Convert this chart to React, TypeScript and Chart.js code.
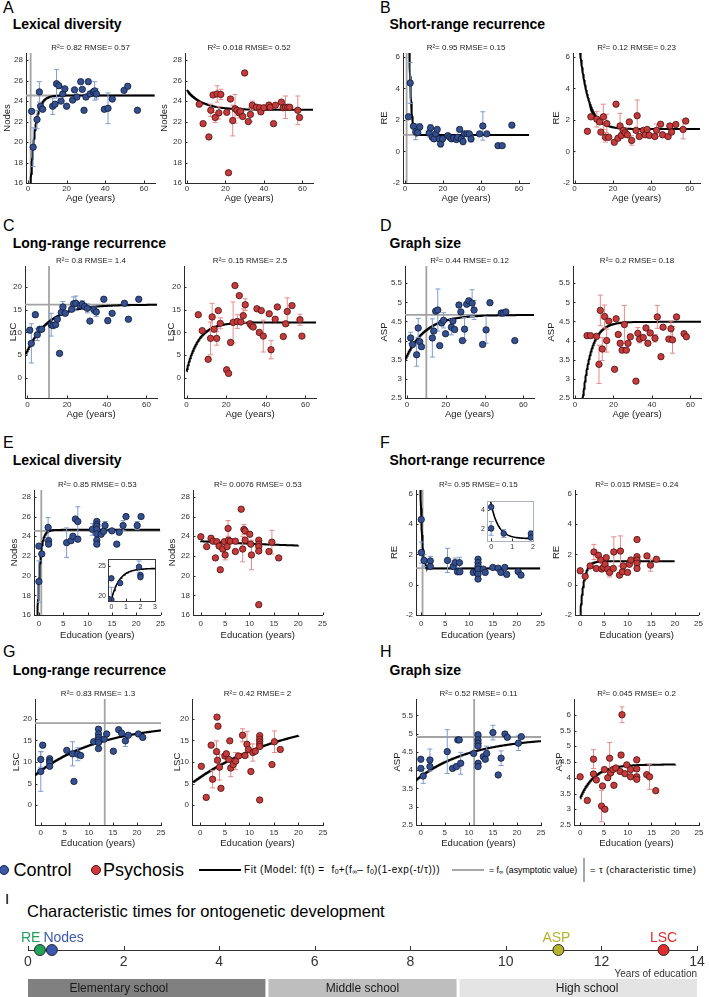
import React, { useEffect, useRef } from "react";
import { Chart, registerables } from "chart.js";
Chart.register(...registerables);

const FONT = "'Liberation Sans', Arial, Helvetica, sans-serif";
Chart.defaults.font.family = FONT;

/* ---------------- tick labels ---------------- */
const ageTicks = [0, 20, 40, 60];
const eduTicks = [0, 5, 10, 15, 20, 25];
const nodesTicks = [16, 18, 20, 22, 24, 26, 28];
const reTicks = [-2, 0, 2, 4, 6];
const lscTicks = [0, 5, 10, 15, 20];
const aspTicks = [2.5, 3, 3.5, 4, 4.5, 5, 5.5];
const aspTicksWide = [2.5, 3, 3.5, 4, 4.5, 5, 5.5, 6];
const insetNodesXTicks = [0, 1, 2, 3];
const insetNodesYTicks = [20, 25];
const insetREXTicks = [0, 1, 2];
const insetREYTicks = [2, 4];
const timelineTicks = [0, 2, 4, 6, 8, 10, 12, 14];

const r2Labels = [
  "R²= 0.82 RMSE= 0.57", "R²= 0.018 RMSE= 0.52",
  "R²= 0.95 RMSE= 0.15", "R²= 0.12 RMSE= 0.23",
  "R²= 0.8 RMSE= 1.4", "R²= 0.15 RMSE= 2.5",
  "R²= 0.44 RMSE= 0.12", "R²= 0.2 RMSE= 0.18",
  "R²= 0.85 RMSE= 0.53", "R²= 0.0076 RMSE= 0.53",
  "R²= 0.95 RMSE= 0.15", "R²= 0.015 RMSE= 0.24",
  "R²= 0.83 RMSE= 1.3", "R²= 0.42 RMSE= 2",
  "R²= 0.52 RMSE= 0.11", "R²= 0.045 RMSE= 0.2",
];

const panelLetters = ["A", "B", "C", "D", "E", "F", "G", "H"];
const panelTitles = [
  "Lexical diversity", "Short-range recurrence", "Long-range recurrence", "Graph size",
  "Lexical diversity", "Short-range recurrence", "Long-range recurrence", "Graph size",
];

/* ---------------- data: [x, y, error] ---------------- */
type Pt = [number, number, number];

const ageNodesCtrl: Pt[] = [
  [1.9, 23.0, 0], [2.7, 19.5, 1.9], [4.7, 22.2, 0.9], [5.9, 24.9, 1.0], [6.5, 23.5, 0], [7.6, 23.2, 0],
  [12.8, 23.5, 0.8], [14.0, 23.7, 0], [14.8, 25.7, 1.4], [16.0, 25.5, 0], [17.1, 24.0, 0], [18.0, 24.7, 0.7],
  [19.1, 25.2, 0], [20.0, 23.5, 0], [23.1, 24.1, 0], [24.1, 25.1, 0], [25.3, 24.4, 0], [27.3, 25.9, 0],
  [28.1, 25.15, 0], [29.0, 23.1, 0], [30.0, 24.4, 0], [31.2, 25.9, 0], [32.1, 24.7, 0], [33.8, 24.9, 0],
  [34.5, 25.0, 0.9], [35.4, 24.7, 0.5], [39.5, 23.2, 0], [41.4, 23.3, 1.5], [43.6, 24.2, 0], [49.7, 25.05, 0],
  [51.6, 25.45, 0], [56.6, 23.1, 0],
];
const ageNodesPsy: Pt[] = [
  [6.4, 23.7, 0], [8.4, 21.8, 0], [11.4, 20.5, 0], [12.4, 23.1, 0.6], [13.6, 24.6, 0], [14.7, 22.4, 0.5],
  [15.7, 24.7, 0.8], [16.6, 22.85, 0.6], [17.6, 24.65, 0.5], [20.7, 22.9, 0], [21.6, 17.0, 0], [22.6, 24.2, 0],
  [23.8, 22.1, 1.5], [25.0, 23.25, 1.4], [26.0, 23.1, 0], [27.1, 22.85, 0.5], [27.9, 23.0, 0], [29.0, 22.5, 0],
  [30.0, 26.75, 0.2], [31.9, 22.0, 0], [33.0, 22.7, 0.7], [34.0, 23.6, 0.4], [36.1, 23.4, 0], [37.8, 23.35, 0],
  [38.4, 22.95, 0], [40.0, 23.35, 0], [42.6, 23.6, 0.3], [43.3, 23.4, 0], [45.0, 21.8, 0], [46.0, 23.6, 0],
  [49.1, 23.9, 0], [50.0, 23.35, 0], [51.2, 23.4, 1.1], [52.4, 23.4, 0], [53.4, 23.4, 0], [57.6, 23.1, 1.4],
  [58.5, 22.4, 0],
];
const ageRECtrl: Pt[] = [
  [1.9, 2.2, 0], [2.8, 4.35, 1.3], [4.5, 1.6, 0], [5.7, 1.25, 0.5], [6.75, 1.2, 0], [7.8, 1.56, 0.2],
  [12.8, 1.17, 0.25], [13.5, 1.5, 0.2], [14.4, 0.9, 0], [15.3, 0.8, 0], [16.3, 1.12, 0], [17.0, 1.4, 0],
  [18.1, 0.8, 0], [18.8, 0.48, 0.2], [19.8, 0.8, 0], [22.6, 1.0, 0.15], [23.6, 0.9, 0], [24.6, 0.8, 0],
  [25.7, 0.85, 0], [27.1, 0.76, 0.1], [27.8, 0.9, 0], [28.8, 1.4, 0], [29.7, 0.8, 0], [30.6, 0.63, 0.2],
  [31.4, 1.12, 0], [32.7, 1.12, 0], [33.9, 1.12, 0], [34.8, 0.8, 0.2], [39.3, 1.12, 0], [41.0, 1.62, 0.9],
  [43.1, 1.12, 0], [49.0, 0.37, 0], [51.2, 0.37, 0], [56.3, 1.67, 0],
];
const ageREPsy: Pt[] = [
  [6.7, 1.28, 0], [8.5, 2.2, 0], [11.6, 2.05, 0.5], [13.0, 1.88, 0], [13.7, 1.23, 0], [15.0, 2.2, 0.8],
  [16.1, 0.9, 0.3], [16.8, 1.77, 0.6], [17.8, 0.9, 0], [20.7, 0.58, 0], [21.6, 3.0, 0], [22.6, 0.84, 0],
  [23.7, 1.62, 0.8], [24.4, 1.02, 0], [25.4, 1.34, 0], [26.4, 1.19, 0.3], [27.5, 1.06, 0], [28.5, 1.88, 0],
  [29.7, 0.7, 0.3], [32.0, 1.34, 0], [32.6, 2.27, 1.0], [33.7, 0.95, 0], [35.8, 1.34, 0], [36.8, 1.06, 0],
  [37.8, 1.4, 0], [38.9, 1.02, 0], [41.8, 0.95, 0], [42.7, 1.34, 0.4], [44.8, 1.73, 0], [45.8, 1.06, 0],
  [48.7, 0.95, 0], [49.6, 1.62, 0], [50.5, 1.23, 0], [52.7, 1.71, 0], [56.5, 1.4, 0.6], [57.9, 1.93, 0],
];
const ageLSCCtrl: Pt[] = [
  [1.2, 10.5, 0], [2.0, 7.6, 4.3], [4.0, 13.9, 0.6], [5.0, 9.5, 1.3], [6.2, 10.7, 0], [7.2, 10.7, 0],
  [12.0, 11.7, 2.5], [12.9, 11.5, 0], [14.2, 11.7, 0], [15.1, 12.9, 0], [16.2, 5.4, 0], [17.1, 14.4, 0],
  [17.9, 15.6, 1.2], [19.1, 14.2, 0], [22.3, 15.1, 0], [23.3, 16.3, 1.5], [24.4, 16.4, 1.6], [26.6, 15.9, 0],
  [27.6, 16.2, 0.8], [28.8, 15.7, 0], [30.2, 15.3, 1.0], [31.5, 12.5, 0], [33.5, 15.0, 0.8], [34.7, 14.5, 1.0],
  [38.5, 17.3, 0], [40.5, 12.6, 0.6], [42.7, 14.2, 0], [48.9, 16.4, 0], [50.9, 12.9, 0], [56.1, 17.3, 0],
];
const ageLSCPsy: Pt[] = [
  [5.9, 13.9, 0], [7.9, 10.4, 0], [10.9, 4.1, 0], [12.1, 8.7, 3.6], [12.9, 13.4, 3.0], [13.9, 10.7, 0],
  [15.2, 8.7, 1.5], [16.0, 14.8, 0], [17.0, 12.0, 1.2], [20.2, 1.8, 0], [21.2, 1.0, 0], [22.2, 7.8, 0.5],
  [23.5, 12.2, 4.5], [24.4, 20.3, 0], [25.6, 12.4, 1.5], [26.6, 18.1, 0], [27.4, 12.3, 0], [28.6, 13.7, 1.5],
  [29.6, 16.1, 1.3], [32.0, 11.9, 0], [32.8, 11.5, 0], [33.6, 11.2, 0], [35.5, 15.2, 0], [36.7, 10.0, 0],
  [37.7, 14.8, 0], [38.7, 9.2, 3.5], [41.7, 14.1, 0], [42.6, 6.2, 2.0], [44.7, 12.9, 0], [45.8, 15.6, 0],
  [48.8, 9.1, 0], [50.0, 11.9, 0], [50.8, 14.6, 3.0], [53.2, 15.9, 0], [57.2, 12.8, 1.2], [58.2, 9.2, 0],
];
const ageASPCtrl: Pt[] = [
  [1.9, 4.07, 0.15], [2.9, 3.9, 0], [5.0, 3.63, 0.3], [5.8, 4.33, 0.25], [6.6, 3.97, 0], [7.5, 3.84, 0],
  [13.1, 4.07, 0.5], [13.8, 4.25, 0], [14.8, 4.77, 0], [15.9, 4.8, 0.55], [16.9, 3.87, 0], [17.9, 4.46, 0],
  [18.9, 4.53, 0.2], [19.9, 4.18, 0], [22.9, 4.35, 0.2], [23.7, 4.51, 0], [24.6, 4.29, 0], [26.8, 4.93, 0],
  [27.8, 4.75, 0], [28.6, 4.0, 0], [29.7, 4.3, 0.3], [30.8, 4.95, 0], [31.9, 5.04, 0], [33.6, 4.98, 0.35],
  [34.6, 4.8, 0.25], [39.0, 3.9, 0], [40.8, 4.28, 0.35], [42.8, 4.99, 0], [48.6, 4.72, 0], [49.6, 4.72, 0],
  [51.0, 4.75, 0], [55.6, 4.0, 0],
];
const ageASPPsy: Pt[] = [
  [6.3, 4.13, 0], [8.1, 4.13, 0], [11.2, 4.11, 0], [12.5, 3.38, 0.5], [13.2, 4.79, 0.4], [14.2, 3.78, 0.3],
  [15.4, 4.63, 0.3], [16.5, 4.0, 0.3], [17.6, 4.51, 0], [20.6, 3.25, 0], [21.4, 4.57, 0], [22.5, 4.16, 0],
  [23.5, 3.93, 0], [24.5, 3.75, 0], [25.7, 4.42, 0.5], [26.7, 3.75, 0], [27.6, 3.93, 0], [28.8, 4.1, 0],
  [31.7, 2.94, 0], [32.7, 4.19, 0.15], [33.6, 4.04, 0.1], [35.5, 4.08, 0], [36.9, 4.33, 0], [37.9, 3.93, 0],
  [39.1, 4.2, 0], [41.6, 4.06, 0.1], [42.8, 4.62, 0.3], [44.7, 3.58, 0], [45.8, 4.35, 0], [48.8, 4.04, 0],
  [49.9, 4.31, 0.2], [50.7, 4.02, 0.35], [52.8, 4.62, 0], [56.7, 4.18, 0], [57.9, 4.1, 0],
];
const eduNodesCtrl: Pt[] = [
  [0.0, 23.0, 0], [0.0, 19.4, 2.1], [0.6, 22.2, 0], [1.9, 24.9, 1.0], [2.0, 23.55, 0], [2.0, 23.2, 0],
  [5.7, 23.35, 1.5], [6.6, 23.55, 0], [7.0, 24.0, 0], [7.5, 25.75, 0], [8.0, 25.5, 1.5], [8.0, 23.7, 0],
  [11.0, 24.7, 0.6], [11.9, 25.5, 0], [11.9, 25.2, 0], [11.9, 25.0, 0], [11.9, 24.7, 0], [11.9, 24.25, 0],
  [11.9, 23.6, 0], [11.9, 23.2, 0], [12.8, 24.2, 0], [13.3, 24.5, 0], [13.6, 25.1, 0.4], [15.0, 24.55, 0],
  [16.0, 23.2, 0], [16.5, 24.4, 0], [17.3, 25.1, 0.5], [17.9, 26.0, 0], [20.2, 25.1, 0.4], [21.0, 26.0, 0],
];
const eduNodesPsy: Pt[] = [
  [0.0, 23.95, 0], [1.2, 22.95, 0], [2.1, 23.8, 0], [2.5, 23.5, 0], [3.0, 21.8, 0], [3.3, 23.45, 0],
  [3.75, 23.0, 0], [4.0, 20.6, 0], [4.5, 22.7, 0], [4.85, 23.45, 0], [5.0, 22.1, 0.5], [5.4, 22.95, 0],
  [5.6, 24.8, 0.8], [5.7, 23.6, 0], [6.05, 23.5, 0], [7.1, 22.45, 0], [7.1, 23.5, 0], [8.3, 26.75, 0],
  [8.6, 22.7, 1.3], [8.85, 24.7, 0.5], [9.1, 24.55, 0], [9.1, 23.6, 0], [10.05, 24.2, 0], [10.25, 23.2, 0],
  [10.4, 22.1, 1.5], [11.9, 23.6, 0], [11.9, 23.2, 0], [11.9, 22.95, 0], [11.9, 22.5, 0], [11.9, 17.05, 0],
  [14.0, 22.45, 0], [14.6, 23.4, 1.2], [16.0, 21.8, 0],
];
const eduRECtrl: Pt[] = [
  [0.0, 2.12, 0.7], [0.0, 4.3, 0], [0.6, 1.6, 0.4], [1.9, 1.57, 0.3], [1.9, 1.2, 0], [5.5, 1.6, 0.8],
  [6.7, 1.2, 0], [7.1, 1.46, 0.3], [7.6, 0.85, 0], [8.0, 1.46, 0.35], [8.1, 0.85, 0], [10.9, 0.81, 0],
  [11.6, 0.85, 0], [11.9, 1.68, 0], [11.9, 1.46, 0], [11.9, 1.24, 0], [11.9, 1.03, 0], [11.9, 0.7, 0],
  [11.9, 0.37, 0], [13.0, 1.03, 0], [13.4, 0.81, 0], [15.0, 1.14, 0], [16.1, 1.09, 0], [16.7, 0.81, 0],
  [17.5, 1.14, 0], [17.9, 0.68, 0], [20.3, 0.87, 0], [20.9, 0.63, 0],
];
const eduREPsy: Pt[] = [
  [0.0, 0.92, 0], [1.05, 0.55, 0], [2.1, 1.24, 0], [2.9, 2.16, 0.5], [3.4, 1.07, 0], [3.85, 1.94, 0],
  [4.35, 1.63, 0], [4.55, 1.03, 0], [4.9, 1.14, 0], [5.25, 1.35, 0], [5.5, 1.79, 0], [5.8, 1.03, 0],
  [6.2, 0.81, 0.3], [7.0, 1.07, 0], [7.1, 2.16, 1.0], [8.3, 0.63, 0], [8.5, 2.22, 1.0], [8.9, 0.85, 0],
  [9.1, 1.24, 0], [10.0, 0.81, 0], [10.4, 1.35, 0], [10.7, 1.63, 0], [12.0, 2.98, 0], [12.0, 1.85, 0],
  [12.0, 1.63, 0], [12.0, 1.42, 0], [12.0, 1.07, 0], [14.1, 1.9, 0], [14.85, 1.29, 0.4], [16.1, 1.68, 0],
];
const eduLSCCtrl: Pt[] = [
  [0.0, 10.6, 1.8], [0.0, 7.8, 4.6], [0.4, 13.9, 0.6], [1.85, 10.75, 0], [1.85, 10.2, 0], [1.85, 9.8, 0],
  [1.85, 9.0, 0], [5.4, 12.7, 0], [6.6, 11.9, 2.8], [6.9, 5.5, 0], [7.7, 11.8, 1.5], [8.3, 11.5, 0],
  [11.0, 14.7, 0], [12.0, 17.6, 0], [12.0, 16.5, 0], [12.0, 15.7, 0], [12.0, 15.1, 0], [12.0, 14.5, 0],
  [12.0, 13.1, 0], [13.2, 15.3, 0], [13.7, 16.5, 0], [15.1, 12.5, 0], [16.2, 17.5, 0], [16.8, 16.7, 0],
  [17.6, 14.9, 1.3], [18.2, 16.2, 0], [20.3, 16.5, 0], [21.2, 15.7, 0],
];
const eduLSCPsy: Pt[] = [
  [0.2, 9.0, 0], [1.2, 1.8, 0], [2.2, 13.9, 0], [2.5, 6.0, 2.0], [3.3, 12.4, 2.5], [3.5, 10.4, 0],
  [3.9, 8.8, 3.0], [4.2, 3.9, 0], [3.4, 20.4, 0], [3.6, 18.3, 0], [5.0, 11.4, 0], [5.3, 11.9, 0],
  [5.8, 10.6, 0], [6.0, 14.9, 0], [6.2, 8.6, 2.0], [6.7, 9.4, 0], [7.2, 10.2, 2.0], [7.8, 11.4, 0],
  [8.6, 16.2, 1.5], [9.1, 11.5, 0], [9.5, 14.1, 3.0], [9.8, 12.9, 0], [10.3, 7.8, 0], [10.7, 12.2, 2.0],
  [11.2, 12.5, 0], [12.1, 1.2, 0], [12.1, 16.1, 0], [12.1, 15.3, 0], [12.1, 14.7, 0], [12.1, 14.1, 0],
  [12.1, 13.6, 0], [14.6, 9.4, 0], [15.1, 14.7, 2.5], [16.3, 12.9, 0],
];
const eduASPCtrl: Pt[] = [
  [0.0, 4.3, 0], [0.0, 4.05, 0], [0.5, 3.84, 0.2], [1.9, 4.1, 0], [1.9, 4.28, 0.3], [5.5, 4.51, 0.6],
  [6.6, 4.05, 0], [7.4, 4.1, 0], [7.7, 4.83, 0], [8.0, 4.83, 0], [8.3, 4.19, 0.3], [11.0, 4.46, 0],
  [11.9, 4.97, 0], [11.9, 4.83, 0], [11.9, 4.74, 0], [11.9, 4.66, 0], [11.9, 4.19, 0], [11.9, 4.1, 0],
  [13.0, 4.37, 0], [13.4, 4.3, 0], [13.7, 4.46, 0.2], [15.0, 5.03, 0.2], [16.1, 3.87, 0], [16.7, 4.33, 0.2],
  [17.5, 4.99, 0], [18.0, 4.9, 0], [20.3, 4.74, 0.2], [20.9, 4.92, 0],
];
const eduASPPsy: Pt[] = [
  [0.0, 4.03, 0], [1.5, 3.28, 0], [2.8, 4.59, 0.3], [2.8, 4.12, 0], [3.4, 3.93, 0], [4.5, 3.1, 0.5],
  [4.7, 3.74, 0], [5.1, 4.26, 0], [5.2, 3.0, 0], [5.8, 4.0, 0], [6.2, 4.62, 0.5], [6.4, 4.15, 0],
  [6.9, 4.26, 0], [7.1, 3.76, 0], [7.5, 4.31, 0], [8.4, 4.2, 0], [8.6, 4.72, 0], [8.8, 6.0, 0.25],
  [9.4, 4.13, 0], [9.8, 4.41, 0], [10.6, 4.26, 0], [10.6, 4.03, 0], [11.9, 4.57, 0], [11.9, 4.28, 0],
  [11.9, 4.03, 0], [11.9, 3.95, 0], [14.0, 4.1, 0], [14.6, 4.03, 0.4], [15.9, 3.59, 0],
];

/* ---------------- fits: [f0, fInf, tau, tStart, tEnd] ---------------- */
const fitAgeNodesCtrl = [9, 24.55, 2.4, 0, 65.5];
const fitAgeNodesPsy = [25.1, 23.15, 8, 0, 65.5];
const fitAgeRECtrl = [75, 1.05, 0.92, 0, 65.5];
const fitAgeREPsy = [10.6, 1.42, 4.6, 0, 65.5];
const fitAgeLSCCtrl = [6, 16.1, 10.9, -0.8, 65.5];
const fitAgeLSCPsy = [1.5, 12.2, 6, 0, 65.5];
const fitAgeASPCtrl = [3.6, 4.67, 10, -1, 65.5];
const fitAgeASPPsy = [-0.5, 4.49, 4.5, 0, 65.5];
const fitEduNodesCtrl = [19.4, 24.65, 0.55, -1, 25];
const fitEduNodesPsy = [23.5, 22.6, 30, 0, 20];
const fitEduRECtrl = [4.6, 1.07, 0.35, -0.5, 25];
const fitEduREPsy = [-2.1, 1.55, 0.8, 0, 20];
const fitEduLSCCtrl = [8, 19, 13.3, -1.2, 25];
const fitEduLSCPsy = [6.5, 21.5, 19.6, -1.5, 20];
const fitEduASPCtrl = [3.83, 4.91, 11.1, -1, 25];
const fitEduASPPsy = [3.35, 4.42, 3, 0, 20];

/* gray reference lines for controls: [asymptote fInf, characteristic time tau] */
const refAgeNodes = [24.55, 1.4];
const refAgeRE = [1.05, 0.9];
const refAgeLSC = [16.1, 10.9];
const refAgeASP = [4.67, 10];
const refEduNodes = [24.55, 0.5];
const refEduRE = [1.1, 0.27];
const refEduLSC = [19.0, 13.3];
const refEduASP = [4.91, 11.1];

/* ---------------- panel I ---------------- */
const timelineMeasures = ["RE", "Nodes", "ASP", "LSC"];
const timelineTaus = [0.25, 0.5, 11.1, 13.3];
const timelineColors = ["#22a35a", "#3d58b0", "#b6b32c", "#e02c2c"];
const schoolNames = ["Elementary school", "Middle school", "High school"];
const schoolStart = [0, 5, 9];
const schoolEnd = [5, 9, 14];
const schoolLabelAt = [1.9, 7.0, 11.7];
const schoolColors = ["#808080", "#bebebe", "#e4e4e4"];

/* ---------------- styles ---------------- */
const CTRL = { fill: "#35508f", edge: "#0f1b3b", err: "#7e9dd2" };
const PSY = { fill: "#c53b3b", edge: "#4d1010", err: "#e88b8b" };
const AXIS = "#2b2b2b";
const REF = "#a3a3a3";

function modelValue(f0: number, fInf: number, tau: number, t: number) {
  return f0 + (fInf - f0) * (1 - Math.exp(-t / tau));
}
function fitPoints(fit: number[]) {
  const [f0, fInf, tau, t0, t1] = fit;
  const n = 500;
  const out: any[] = [];
  for (let i = 0; i <= n; i++) {
    const t = t0 + ((t1 - t0) * i) / n;
    out.push({ x: t, y: modelValue(f0, fInf, tau, t) });
  }
  return out;
}

/* ---------------- plugins ---------------- */
const errorBars = {
  id: "errorBars",
  beforeDatasetDraw(chart: any, args: any) {
    const ds = chart.data.datasets[args.index];
    if (!ds.errors) return;
    const { ctx, chartArea: a } = chart;
    const xs = chart.scales.x, ys = chart.scales.y;
    ctx.save();
    ctx.beginPath();
    ctx.rect(a.left, a.top, a.right - a.left, a.bottom - a.top);
    ctx.clip();
    ctx.strokeStyle = ds.errorColor;
    ctx.lineWidth = 1;
    ds.data.forEach((p: any, i: number) => {
      const e = ds.errors[i];
      if (!e) return;
      const x = xs.getPixelForValue(p.x);
      const y1 = ys.getPixelForValue(p.y + e);
      const y2 = ys.getPixelForValue(p.y - e);
      ctx.beginPath();
      ctx.moveTo(x, y1); ctx.lineTo(x, y2);
      ctx.moveTo(x - 2.5, y1); ctx.lineTo(x + 2.5, y1);
      ctx.moveTo(x - 2.5, y2); ctx.lineTo(x + 2.5, y2);
      ctx.stroke();
    });
    ctx.restore();
  },
};

const innerTicks = {
  id: "innerTicks",
  afterDatasetsDraw(chart: any) {
    const { ctx, chartArea: a, scales } = chart;
    const len = 2.5;
    ctx.save();
    ctx.strokeStyle = AXIS;
    ctx.lineWidth = 1;
    ctx.beginPath();
    for (const t of scales.x.ticks) {
      const x = Math.round(scales.x.getPixelForValue(t.value)) + 0.5;
      ctx.moveTo(x, a.bottom); ctx.lineTo(x, a.bottom - len);
    }
    for (const t of scales.y.ticks) {
      const y = Math.round(scales.y.getPixelForValue(t.value)) + 0.5;
      ctx.moveTo(a.left, y); ctx.lineTo(a.left + len, y);
    }
    ctx.stroke();
    ctx.restore();
  },
};

function makeFrame(color: string) {
  return {
    id: "insetFrame",
    beforeDatasetsDraw(chart: any) {
      const { ctx, chartArea: a } = chart;
      ctx.save();
      ctx.fillStyle = "#ffffff";
      ctx.fillRect(a.left, a.top, a.right - a.left, a.bottom - a.top);
      ctx.restore();
    },
    afterDraw(chart: any) {
      const { ctx, chartArea: a } = chart;
      ctx.save();
      ctx.strokeStyle = color;
      ctx.lineWidth = 1;
      ctx.strokeRect(Math.round(a.left) + 0.5, Math.round(a.top) + 0.5, Math.round(a.right - a.left), Math.round(a.bottom - a.top));
      ctx.restore();
    },
  };
}

/* ---------------- panel layout ---------------- */
const PANELS: any[] = [
  { area: [26, 53, 155, 183], x: [-1, 65.7], y: [16, 28.7], xt: ageTicks, yt: nodesTicks, xl: "Age (years)", yl: "Nodes", pts: ageNodesCtrl, fit: fitAgeNodesCtrl, ref: refAgeNodes, g: "c", L: 24, B: 21, tp: 0.5 },
  { area: [185, 53, 313, 183], x: [-1, 65.5], y: [16, 28.7], xt: ageTicks, yt: nodesTicks, xl: "Age (years)", yl: "Nodes", pts: ageNodesPsy, fit: fitAgeNodesPsy, g: "p", L: 26, B: 21, tp: 0.5 },
  { area: [403, 53, 529, 183], x: [-1, 65.3], y: [-2, 6.25], xt: ageTicks, yt: reTicks, xl: "Age (years)", yl: "RE", pts: ageRECtrl, fit: fitAgeRECtrl, ref: refAgeRE, g: "c", L: 24, B: 21, tp: 0.5 },
  { area: [573, 53, 700, 183], x: [-0.8, 65.3], y: [-2, 6.25], xt: ageTicks, yt: reTicks, xl: "Age (years)", yl: "RE", pts: ageREPsy, fit: fitAgeREPsy, g: "p", L: 22, B: 21, tp: 0.5 },
  { area: [25, 266, 157, 398], x: [-1.2, 65.3], y: [-4.4, 24.6], xt: ageTicks, yt: lscTicks, xl: "Age (years)", yl: "LSC", pts: ageLSCCtrl, fit: fitAgeLSCCtrl, ref: refAgeLSC, g: "c", L: 17, B: 22, tp: 1.5 },
  { area: [184, 266, 316, 398], x: [-1.3, 65.3], y: [-4.4, 24.6], xt: ageTicks, yt: lscTicks, xl: "Age (years)", yl: "LSC", pts: ageLSCPsy, fit: fitAgeLSCPsy, g: "p", L: 18, B: 22, tp: 1.5 },
  { area: [405, 266, 534, 398], x: [-1, 65.5], y: [2.5, 5.95], xt: ageTicks, yt: aspTicks, xl: "Age (years)", yl: "ASP", pts: ageASPCtrl, fit: fitAgeASPCtrl, ref: refAgeASP, g: "c", L: 26, B: 22, tp: 1.5 },
  { area: [573, 266, 701, 398], x: [-1, 65.5], y: [2.5, 5.95], xt: ageTicks, yt: aspTicks, xl: "Age (years)", yl: "ASP", pts: ageASPPsy, fit: fitAgeASPPsy, g: "p", L: 27, B: 22, tp: 1.5 },
  { area: [34, 490, 161, 615], x: [-1, 25], y: [16, 28.7], xt: eduTicks, yt: nodesTicks, xl: "Education (years)", yl: "Nodes", pts: eduNodesCtrl, fit: fitEduNodesCtrl, ref: refEduNodes, g: "c", L: 25, B: 26, tp: 4 },
  { area: [193, 490, 323, 615], x: [-1.6, 25], y: [16, 28.7], xt: eduTicks, yt: nodesTicks, xl: "Education (years)", yl: "Nodes", pts: eduNodesPsy, fit: fitEduNodesPsy, g: "p", L: 26, B: 26, tp: 4 },
  { area: [416, 490, 541, 615], x: [-1.1, 25], y: [-2, 6.25], xt: eduTicks, yt: reTicks, xl: "Education (years)", yl: "RE", pts: eduRECtrl, fit: fitEduRECtrl, ref: refEduRE, g: "c", L: 27, B: 26, tp: 4 },
  { area: [575, 490, 699, 615], x: [-1.1, 25], y: [-2, 6.25], xt: eduTicks, yt: reTicks, xl: "Education (years)", yl: "RE", pts: eduREPsy, fit: fitEduREPsy, g: "p", L: 24, B: 26, tp: 4 },
  { area: [35, 699, 161, 825], x: [-1.2, 25], y: [-4.6, 24.6], xt: eduTicks, yt: lscTicks, xl: "Education (years)", yl: "LSC", pts: eduLSCCtrl, fit: fitEduLSCCtrl, ref: refEduLSC, g: "c", L: 24, B: 24, tp: 2.7 },
  { area: [192, 699, 323, 825], x: [-1.7, 25], y: [-4.6, 24.6], xt: eduTicks, yt: lscTicks, xl: "Education (years)", yl: "LSC", pts: eduLSCPsy, fit: fitEduLSCPsy, g: "p", L: 20, B: 24, tp: 2.7 },
  { area: [416, 699, 541, 825], x: [-1, 25], y: [2.5, 5.95], xt: eduTicks, yt: aspTicks, xl: "Education (years)", yl: "ASP", pts: eduASPCtrl, fit: fitEduASPCtrl, ref: refEduASP, g: "c", L: 24, B: 24, tp: 2.7 },
  { area: [574, 699, 699, 825], x: [-1.3, 25], y: [2.5, 6.5], xt: eduTicks, yt: aspTicksWide, xl: "Education (years)", yl: "ASP", pts: eduASPPsy, fit: fitEduASPPsy, g: "p", L: 20, B: 24, tp: 2.7 },
];

const INSETS: any[] = [
  { area: [108, 555, 155, 601], x: [-0.23, 3], y: [19.2, 26.2], xt: insetNodesXTicks, yt: insetNodesYTicks, pts: eduNodesCtrl, fit: fitEduNodesCtrl, frame: "#3a3a3a" },
  { area: [487, 497, 533, 541], x: [-0.2, 2.0], y: [0.83, 4.9], xt: insetREXTicks, yt: insetREYTicks, pts: eduRECtrl, fit: fitEduRECtrl, frame: "#a9b0c0" },
];

const TITLE_H = 11;
const RIGHT_PAD = 8;

function panelGeom(p: any) {
  const [l, t, r, b] = p.area;
  return { left: l - p.L, top: t - TITLE_H, w: p.L + (r - l) + RIGHT_PAD, h: TITLE_H + (b - t) + p.B };
}

function pointDataset(p: any, radius: number) {
  const col = p.g === "c" ? CTRL : PSY;
  return {
    data: p.pts.map((q: Pt) => ({ x: q[0], y: q[1] })),
    errors: p.pts.map((q: Pt) => q[2]),
    errorColor: col.err,
    showLine: false,
    pointRadius: radius,
    backgroundColor: col.fill,
    borderColor: col.edge,
    pointBackgroundColor: col.fill,
    pointBorderColor: col.edge,
    pointBorderWidth: 0.8,
    order: 0,
  };
}

function panelConfig(p: any, i: number) {
  const datasets: any[] = [
    pointDataset(p, 3.2),
    { data: fitPoints(p.fit), showLine: true, borderColor: "#000", borderWidth: 2, pointRadius: 0, tension: 0, order: 1 },
  ];
  if (p.ref) {
    datasets.push({ data: [{ x: p.x[0], y: p.ref[0] }, { x: p.x[1], y: p.ref[0] }], showLine: true, borderColor: REF, borderWidth: 1.8, pointRadius: 0, order: 2 });
    datasets.push({ data: [{ x: p.ref[1], y: p.y[0] }, { x: p.ref[1], y: p.y[1] }], showLine: true, borderColor: REF, borderWidth: 1.8, pointRadius: 0, order: 2 });
  }
  const tickFont = { family: FONT, size: 8 };
  return {
    type: "scatter",
    data: { datasets },
    options: {
      responsive: false,
      animation: false,
      events: [],
      devicePixelRatio: 1,
      layout: { padding: { left: 0, right: RIGHT_PAD, top: 0, bottom: 0 } },
      plugins: {
        legend: { display: false },
        tooltip: { enabled: false },
        title: {
          display: true, text: r2Labels[i], fullSize: false, color: "#222",
          font: { family: FONT, size: 8, lineHeight: "11px", weight: "normal" }, padding: 0,
        },
      },
      scales: {
        x: {
          type: "linear", min: p.x[0], max: p.x[1],
          afterBuildTicks: (s: any) => { s.ticks = p.xt.map((v: number) => ({ value: v })); },
          afterFit: (s: any) => { s.height = p.B; },
          grid: { display: false, drawTicks: false },
          border: { display: true, color: AXIS, width: 1 },
          ticks: { font: tickFont, color: "#333", padding: p.tp, maxRotation: 0, autoSkip: false, callback: (v: any) => String(v) },
          title: { display: true, text: p.xl, color: "#222", font: { family: FONT, size: 9.5 }, padding: 0 },
        },
        y: {
          type: "linear", min: p.y[0], max: p.y[1],
          afterBuildTicks: (s: any) => { s.ticks = p.yt.map((v: number) => ({ value: v })); },
          afterFit: (s: any) => { s.width = p.L; },
          grid: { display: false, drawTicks: false },
          border: { display: true, color: AXIS, width: 1 },
          ticks: { font: tickFont, color: "#333", padding: 3, autoSkip: false, callback: (v: any) => String(v) },
          title: { display: true, text: p.yl, color: "#222", font: { family: FONT, size: 9.5 }, padding: 0 },
        },
      },
    },
    plugins: [errorBars, innerTicks],
  };
}

function insetConfig(p: any) {
  const tickFont = { family: FONT, size: 7 };
  return {
    type: "scatter",
    data: {
      datasets: [
        pointDataset({ ...p, g: "c" }, 2.8),
        { data: fitPoints(p.fit), showLine: true, borderColor: "#000", borderWidth: 1.6, pointRadius: 0, order: 1 },
      ],
    },
    options: {
      responsive: false, animation: false, events: [], devicePixelRatio: 1,
      layout: { padding: { left: 0, right: 5, top: 2, bottom: 0 } },
      plugins: { legend: { display: false }, tooltip: { enabled: false } },
      scales: {
        x: {
          type: "linear", min: p.x[0], max: p.x[1],
          afterBuildTicks: (s: any) => { s.ticks = p.xt.map((v: number) => ({ value: v })); },
          afterFit: (s: any) => { s.height = 10; },
          grid: { display: false, drawTicks: false }, border: { display: false },
          ticks: { font: tickFont, color: "#333", padding: 1.5, maxRotation: 0, autoSkip: false, callback: (v: any) => String(v) },
        },
        y: {
          type: "linear", min: p.y[0], max: p.y[1],
          afterBuildTicks: (s: any) => { s.ticks = p.yt.map((v: number) => ({ value: v })); },
          afterFit: (s: any) => { s.width = 11; },
          grid: { display: false, drawTicks: false }, border: { display: false },
          ticks: { font: tickFont, color: "#333", padding: 2, autoSkip: false, callback: (v: any) => String(v) },
        },
      },
    },
    plugins: [makeFrame(p.frame), errorBars, innerTicks],
  };
}

function useChart(ref: any, makeCfg: () => any) {
  useEffect(() => {
    const chart = new Chart(ref.current, makeCfg());
    return () => chart.destroy();
  }, []);
}

function PanelChart({ p, i }: any) {
  const ref = useRef<HTMLCanvasElement>(null);
  useChart(ref, () => panelConfig(p, i));
  const g = panelGeom(p);
  return <canvas ref={ref} width={g.w} height={g.h} style={{ position: "absolute", left: g.left, top: g.top, width: g.w, height: g.h }} />;
}

function InsetChart({ p }: any) {
  const ref = useRef<HTMLCanvasElement>(null);
  useChart(ref, () => insetConfig(p));
  const [l, t, r, b] = p.area;
  const left = l - 11, top = t - 2, w = 11 + (r - l) + 5, h = 2 + (b - t) + 10;
  return <canvas ref={ref} width={w} height={h} style={{ position: "absolute", left, top, width: w, height: h }} />;
}

/* ---------------- panel I (timeline) ---------------- */
const timelineDecor = {
  id: "timelineDecor",
  afterDraw(chart: any) {
    const { ctx, scales } = chart;
    const xs = scales.x;
    const axisY = chart.chartArea.bottom;
    ctx.save();
    ctx.strokeStyle = "#333";
    ctx.lineWidth = 1;
    ctx.beginPath();
    timelineTicks.forEach((v) => {
      const x = Math.round(xs.getPixelForValue(v)) + 0.5;
      ctx.moveTo(x, axisY); ctx.lineTo(x, axisY - 4);
    });
    ctx.stroke();
    const aligns = ["right", "left", "center", "center"];
    const shifts = [0.5, -8.5, -2, 0];
    ctx.font = `14px ${FONT}`;
    ctx.textBaseline = "alphabetic";
    timelineMeasures.forEach((m, k) => {
      ctx.fillStyle = timelineColors[k];
      ctx.textAlign = aligns[k];
      ctx.fillText(m, xs.getPixelForValue(timelineTaus[k]) + shifts[k], axisY - 8);
    });
    const top = axisY + 29, bottom = chart.height;
    schoolNames.forEach((name, k) => {
      const x0 = xs.getPixelForValue(schoolStart[k]) + (k === 0 ? 0 : 1.5);
      const x1 = xs.getPixelForValue(schoolEnd[k]) - (k === schoolNames.length - 1 ? 0 : 1.5);
      ctx.fillStyle = schoolColors[k];
      ctx.fillRect(x0, top, x1 - x0, bottom - top);
      ctx.fillStyle = "#1a1a1a";
      ctx.font = `12px ${FONT}`;
      ctx.textAlign = "center";
      ctx.textBaseline = "middle";
      ctx.fillText(name, xs.getPixelForValue(schoolLabelAt[k]), (top + bottom) / 2 + 0.5);
    });
    ctx.restore();
  },
};

function TimelineChart() {
  const ref = useRef<HTMLCanvasElement>(null);
  useChart(ref, () => ({
    type: "scatter",
    data: {
      datasets: [{
        data: timelineTaus.map((t) => ({ x: t, y: 0 })),
        pointRadius: 5.5,
        pointBackgroundColor: timelineColors,
        backgroundColor: timelineColors,
        pointBorderColor: "#2a2a2a",
        borderColor: "#2a2a2a",
        pointBorderWidth: 1,
        clip: false,
      }],
    },
    options: {
      responsive: false, animation: false, events: [], devicePixelRatio: 1,
      layout: { padding: { left: 28, right: 12, top: 10, bottom: 0 } },
      plugins: { legend: { display: false }, tooltip: { enabled: false } },
      scales: {
        x: {
          type: "linear", min: 0, max: 14,
          afterBuildTicks: (s: any) => { s.ticks = timelineTicks.map((v) => ({ value: v })); },
          afterFit: (s: any) => { s.height = 47; },
          grid: { display: false, drawTicks: false },
          border: { display: true, color: "#333", width: 1 },
          ticks: { font: { family: FONT, size: 14 }, color: "#333", padding: 4, maxRotation: 0, autoSkip: false, callback: (v: any) => String(v) },
          title: { display: true, text: "Years of education", align: "end", color: "#333", font: { family: FONT, size: 10 }, padding: { top: 0, bottom: 17 } },
        },
        y: { display: false, min: 0, max: 1 },
      },
    },
    plugins: [timelineDecor],
  }));
  return <canvas ref={ref} width={709} height={82} style={{ position: "absolute", left: 0, top: 915, width: 709, height: 82 }} />;
}

/* ---------------- text helpers ---------------- */
function Txt({ x, base, size, weight, color, spacing, children }: any) {
  return (
    <div style={{
      position: "absolute", left: x, top: base - 0.8465 * size, fontSize: size, lineHeight: `${size}px`,
      fontFamily: FONT, fontWeight: weight || 400, color: color || "#000", whiteSpace: "nowrap",
      letterSpacing: spacing ? `${spacing}px` : undefined,
    }}>{children}</div>
  );
}

const headingRows = [
  { letterBase: 13.3, titleBase: 28.5 },
  { letterBase: 231.7, titleBase: 248 },
  { letterBase: 448.3, titleBase: 465.3 },
  { letterBase: 657.3, titleBase: 675 },
];

function Headings() {
  const out: any[] = [];
  panelLetters.forEach((letter, k) => {
    const row = headingRows[Math.floor(k / 2)];
    const right = k % 2 === 1;
    out.push(<Txt key={"l" + k} x={right ? 380 : 3} base={row.letterBase} size={16}>{letter}</Txt>);
    out.push(<Txt key={"t" + k} x={right ? 389.5 : 12.7} base={row.titleBase} size={14} weight={700}>{panelTitles[k]}</Txt>);
  });
  return <>{out}</>;
}

function Legend() {
  const sub = { fontSize: "0.7em", verticalAlign: "-1px", letterSpacing: 0 } as any;
  return (
    <>
      <div style={{ position: "absolute", left: -1.5, top: 865, width: 10, height: 10, borderRadius: "50%", background: "#3c58a8", border: "1px solid #1a2342", boxSizing: "border-box" }} />
      <Txt x={13.6} base={876.6} size={18}>Control</Txt>
      <div style={{ position: "absolute", left: 91, top: 865, width: 10, height: 10, borderRadius: "50%", background: "#d23a3a", border: "1px solid #4d1010", boxSizing: "border-box" }} />
      <Txt x={103} base={876.6} size={18}>Psychosis</Txt>
      <div style={{ position: "absolute", left: 199, top: 869, width: 42, height: 2, background: "#000" }} />
      <Txt x={244} base={873.5} size={10} spacing={0.55}>
        Fit (Model: f(t) = &nbsp;f<span style={sub}>0</span>+(f<span style={sub}>∞</span>– f<span style={sub}>0</span>)(1-exp(-t/τ)))
      </Txt>
      <div style={{ position: "absolute", left: 452, top: 869, width: 32, height: 2, background: "#a8a8a8" }} />
      <Txt x={489} base={873.5} size={8.8}>= f<span style={sub}>∞</span> (asymptotic value)</Txt>
      <div style={{ position: "absolute", left: 583, top: 858, width: 1.5, height: 24, background: "#a8a8a8" }} />
      <Txt x={590} base={873.5} size={9.5} spacing={0.35}>= τ (characteristic time)</Txt>
      <Txt x={5} base={903.3} size={15}>I</Txt>
      <Txt x={27} base={917} size={16.5}>Characteristic times for ontogenetic development</Txt>
    </>
  );
}

export default function App() {
  return (
    <div style={{ position: "absolute", left: 0, top: 0, width: 709, height: 997, background: "#fff", overflow: "hidden", fontFamily: FONT }}>
      <Headings />
      {PANELS.map((p, i) => <PanelChart key={i} p={p} i={i} />)}
      {INSETS.map((p, i) => <InsetChart key={"in" + i} p={p} />)}
      <Legend />
      <TimelineChart />
    </div>
  );
}
